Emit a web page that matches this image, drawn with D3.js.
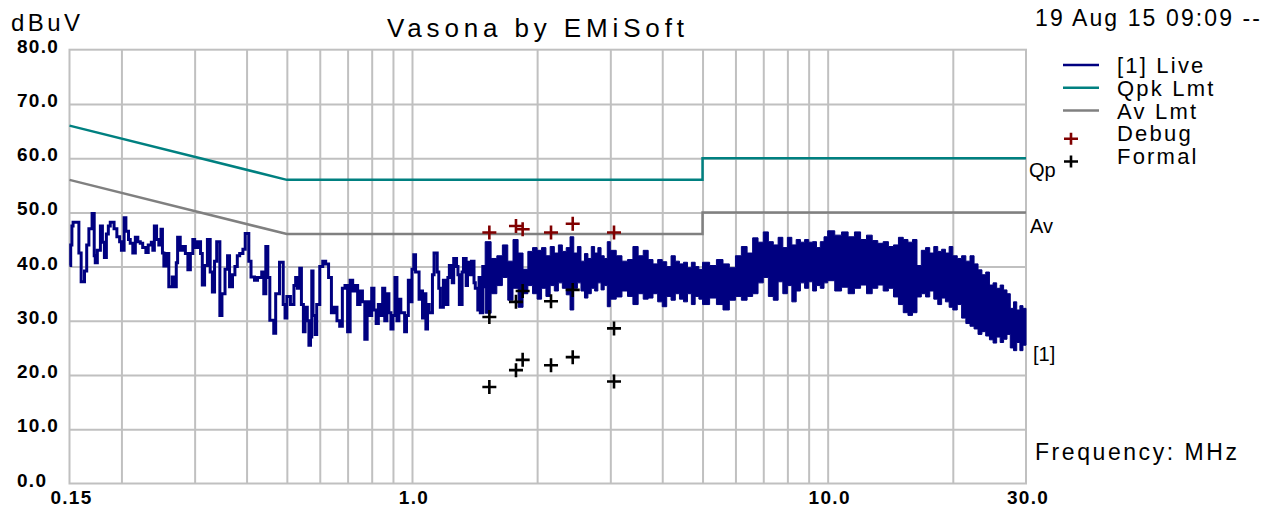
<!DOCTYPE html>
<html>
<head>
<meta charset="utf-8">
<script src="https://cdn.jsdelivr.net/npm/d3@7"></script>
<style>
  body { margin: 0; background: #fff; }
  svg { display: block; }
  text { font-family: "Liberation Sans", Arial, sans-serif; fill: #000; }
</style>
</head>
<body>
<svg width="1270" height="510"></svg>
<script>
// ---- data ----
var yTicks = [0, 10, 20, 30, 40, 50, 60, 70, 80];
var yTickLabels = ["0.0", "10.0", "20.0", "30.0", "40.0", "50.0", "60.0", "70.0", "80.0"];
var xGrid = [0.2, 0.3, 0.4, 0.5, 0.6, 0.7, 0.8, 0.9, 1, 2, 3, 4, 5, 6, 7, 8, 9, 10, 20];
var xTicks = [0.15, 1, 10, 30];
var xTickLabels = ["0.15", "1.0", "10.0", "30.0"];

// limits (MHz, dBuV)
var qpkFreq = [0.15, 0.5, 5, 5, 30];
var qpkLevel = [66, 56, 56, 60, 60];
var avFreq = [0.15, 0.5, 5, 5, 30];
var avLevel = [56, 46, 46, 50, 50];

// live trace, low band (single line)
var liveFreq = [
  0.150,0.151,0.152,0.153,0.155,0.158,0.160,0.163,0.165,0.167,
  0.170,0.172,0.173,0.175,0.178,0.180,0.182,0.184,0.186,0.188,
  0.192,0.195,0.198,0.200,0.203,0.205,0.208,0.210,0.213,0.216,
  0.219,0.222,0.225,0.229,0.232,0.236,0.238,0.240,0.243,0.246,
  0.249,0.251,0.253,0.256,0.260,0.265,0.268,0.271,0.273,0.277,
  0.281,0.285,0.289,0.293,0.297,0.300,0.305,0.310,0.313,0.317,
  0.322,0.327,0.331,0.335,0.339,0.345,0.349,0.355,0.360,0.364,
  0.370,0.375,0.380,0.385,0.392,0.397,0.405,0.410,0.418,0.425,
  0.435,0.440,0.445,0.450,0.455,0.465,0.470,0.480,0.490,0.495,
  0.500,0.510,0.520,0.525,0.530,0.537,0.542,0.548,0.553,0.560,
  0.565,0.570,0.574,0.578,0.585,0.590,0.600,0.610,0.620,0.630,
  0.640,0.650,0.660,0.670,0.680,0.690,0.700,0.710,0.720,0.730,
  0.740,0.750,0.760,0.770,0.780,0.790,0.800,0.810,0.820,0.830,
  0.840,0.850,0.860,0.870,0.880,0.890,0.900,0.910,0.920,0.930,
  0.940,0.960,0.970,0.980,0.990,1.00,1.01,1.02,1.04,1.05,
  1.06,1.07,1.08,1.09,1.10,1.12,1.13,1.15,1.16,1.17,
  1.19,1.20,1.22,1.23,1.25,1.26,1.28,1.29,1.30,1.32,
  1.33,1.35,1.36,1.38,1.39,1.41,1.42,1.44,1.45,1.46,
  1.48,1.50
];
var liveLevel = [
  40.2,44.0,47.5,48.2,48.2,42.5,37.2,39.2,44.0,47.0,
  49.8,42.0,40.7,43.0,47.5,44.5,41.7,46.0,47.5,48.2,
  47.0,45.5,44.6,43.0,49.0,46.5,45.0,44.3,42.5,45.4,
  44.6,44.3,43.5,42.6,44.0,44.5,43.0,47.5,45.0,44.0,
  46.9,42.5,40.1,42.4,36.3,38.1,36.3,40.7,45.4,43.0,
  43.7,42.4,39.4,42.4,45.0,43.5,44.6,42.4,36.6,40.2,
  45.0,39.0,35.3,41.0,44.6,31.0,35.0,39.5,42.0,36.3,
  38.5,40.0,42.0,42.4,43.2,46.1,41.0,38.1,37.5,38.0,
  39.0,35.0,43.7,38.0,30.1,27.7,35.0,40.8,33.0,30.5,
  34.5,33.0,36.5,38.0,36.0,39.7,33.0,28.0,32.5,30.0,
  25.5,27.0,39.2,31.0,27.5,33.0,40.0,41.0,40.5,38.0,
  31.5,32.5,30.0,29.0,36.0,36.5,28.0,37.5,35.5,36.5,
  33.0,35.5,33.5,26.6,33.5,31.0,36.0,32.0,29.5,33.0,
  31.0,36.0,30.0,35.0,31.5,28.5,31.0,38.0,30.0,34.0,
  31.5,28.0,31.0,37.5,33.5,39.5,42.2,39.0,34.0,35.5,
  30.5,35.0,28.5,33.0,31.5,38.5,42.5,39.0,36.0,32.5,
  37.5,33.0,38.0,40.2,37.0,41.5,40.0,38.5,33.0,39.0,
  41.5,36.5,40.8,38.5,41.0,37.0,36.0,32.0,38.0,31.5,
  40.0,36.0
];

// live trace, dense band above 1.5 MHz (column top / bottom)
var bandFreq = [
  1.50,1.55,1.60,1.65,1.70,1.75,1.80,1.85,1.90,1.95,
  2.00,2.05,2.10,2.15,2.20,2.25,2.30,2.35,2.40,2.45,
  2.50,2.55,2.60,2.65,2.70,2.75,2.80,2.85,2.90,2.95,
  3.0,3.1,3.2,3.3,3.4,3.5,3.6,3.7,3.8,3.9,
  4.0,4.1,4.2,4.3,4.4,4.5,4.6,4.7,4.8,4.9,
  5.0,5.2,5.4,5.6,5.8,6.0,6.2,6.4,6.6,6.8,
  7.0,7.2,7.4,7.6,7.8,8.0,8.2,8.4,8.6,8.8,
  9.0,9.2,9.4,9.6,9.8,10.0,10.4,10.8,11.2,11.6,
  12.0,12.4,12.8,13.2,13.6,14.0,14.4,14.8,15.2,15.6,
  16.0,16.4,16.8,17.2,17.6,18.0,18.4,18.8,19.2,19.6,
  20.0,20.5,21.0,21.5,22.0,22.5,23.0,23.5,24.0,24.5,
  25.0,25.5,26.0,26.5,27.0,27.5,28.0,28.5,29.0,29.5,
  30.0
];
var bandHi = [
  44.6,41.5,42.0,44.0,41.0,45.0,42.5,39.5,42.8,43.5,
  43.0,43.5,42.0,43.7,42.5,44.0,42.8,43.5,45.5,42.5,
  43.7,41.0,42.4,41.5,43.7,42.5,43.5,42.0,41.5,44.6,
  43.0,42.0,41.0,41.3,43.7,42.0,43.0,41.3,40.5,41.3,
  40.9,40.0,42.0,41.0,40.5,40.8,39.8,40.8,40.0,39.5,
  40.8,40.2,41.3,40.5,39.8,42.0,43.7,42.5,45.3,44.5,
  46.4,44.6,44.0,45.4,43.5,45.4,44.0,45.0,44.5,45.0,
  44.5,44.6,43.5,44.6,45.5,46.6,45.8,46.4,45.5,46.4,
  45.0,45.8,44.8,44.3,44.6,43.7,44.0,45.4,45.0,44.5,
  45.0,40.2,43.0,43.5,42.5,43.7,42.8,43.2,42.5,43.7,
  42.0,41.5,42.0,41.0,42.0,40.5,39.4,38.5,39.0,36.6,
  37.0,36.0,36.6,35.7,35.0,32.3,33.5,32.0,32.8,32.3,
  32.3
];
var bandLo = [
  31.4,35.0,36.5,38.0,33.8,36.0,32.5,35.0,36.5,35.0,
  34.0,36.0,34.5,36.5,35.5,37.0,36.0,34.8,32.0,36.0,
  37.0,35.5,34.2,35.0,36.0,35.5,37.0,35.7,36.5,32.6,
  34.0,34.4,35.5,34.5,33.0,35.0,34.0,34.2,35.0,33.5,
  32.6,34.5,33.8,35.0,34.0,33.5,35.0,33.0,34.5,34.0,
  33.0,34.2,33.0,32.0,33.8,34.5,33.8,34.5,35.0,37.0,
  38.0,34.5,33.8,37.2,35.0,36.5,33.5,35.5,37.0,36.0,
  37.2,35.5,36.5,36.0,37.0,37.4,35.5,36.2,35.0,36.0,
  36.6,35.0,36.0,36.6,35.5,36.0,34.4,33.0,31.5,31.0,
  31.5,34.4,35.0,34.4,35.5,34.0,33.0,34.2,33.5,32.5,
  32.0,33.0,30.5,29.5,29.0,28.5,27.5,28.0,27.2,26.5,
  25.9,27.0,26.0,26.6,27.5,25.0,24.5,26.0,24.5,25.5,
  25.5
];

// measured points
var debugFreq = [1.535, 1.779, 1.846, 2.16, 2.436, 3.062];
var debugLevel = [46.3, 47.5, 46.9, 46.3, 47.9, 46.3];
var formalFreq = [1.535, 1.535, 1.779, 1.779, 1.846, 1.846, 2.16, 2.16, 2.436, 2.436, 3.062, 3.062];
var formalLevel = [30.7, 17.8, 33.5, 20.9, 35.5, 22.8, 33.6, 21.8, 35.7, 23.3, 28.6, 18.8];

var legendNames = ["[1] Live", "Qpk Lmt", "Av Lmt", "Debug", "Formal"];
var titleText = "Vasona by EMiSoft";
var dateText = "19 Aug 15 09:09 --";

// ---- drawing ----
var svg = d3.select("svg");
var navy = "#000080", teal = "#008080", grey = "#808080", darkRed = "#800000", grid = "#c0c0c0";

var x = d3.scaleLog().domain([0.15, 30]).range([69.5, 1026]);
var y = d3.scaleLinear().domain([0, 80]).range([483.5, 49.7]);
var plotW = x(30) - x(0.15), plotH = y(0) - y(80);

// grid
var gx = svg.append("g")
    .attr("transform", "translate(0," + y(0) + ")")
    .call(d3.axisBottom(x).tickValues(xGrid).tickSize(-plotH).tickFormat(""));
var gy = svg.append("g")
    .attr("transform", "translate(" + x(0.15) + ",0)")
    .call(d3.axisLeft(y).tickValues(yTicks.slice(1, -1)).tickSize(-plotW).tickFormat(""));
[gx, gy].forEach(function(g) {
    g.select(".domain").remove();
    g.selectAll("line").attr("stroke", grid).attr("stroke-width", 2);
});
svg.append("rect")
    .attr("x", x(0.15)).attr("y", y(80))
    .attr("width", plotW).attr("height", plotH)
    .attr("fill", "none").attr("stroke", grid).attr("stroke-width", 2);

// limit lines
var limLine = d3.line().x(function(d) { return x(d[0]); }).y(function(d) { return y(d[1]); });
svg.append("path")
    .attr("d", limLine(d3.zip(avFreq, avLevel)))
    .attr("fill", "none").attr("stroke", grey).attr("stroke-width", 2.5);
svg.append("path")
    .attr("d", limLine(d3.zip(qpkFreq, qpkLevel)))
    .attr("fill", "none").attr("stroke", teal).attr("stroke-width", 2.5);

// live trace
var liveLine = d3.line().curve(d3.curveStepAfter)
    .x(function(d) { return x(d[0]); }).y(function(d) { return y(d[1]); });
svg.append("path")
    .attr("d", liveLine(d3.zip(liveFreq, liveLevel)))
    .attr("fill", "none").attr("stroke", navy).attr("stroke-width", 3);

var bandArea = d3.area().curve(d3.curveStepAfter)
    .x(function(d) { return x(d[0]); })
    .y0(function(d) { return y(d[2]); })
    .y1(function(d) { return y(d[1]); });
svg.append("path")
    .attr("d", bandArea(d3.zip(bandFreq, bandHi, bandLo)))
    .attr("fill", navy).attr("stroke", navy).attr("stroke-width", 1);

// markers
var cross = "M-7,0H7M0,-7V7";
svg.append("g").selectAll("path")
    .data(d3.zip(formalFreq, formalLevel))
    .enter().append("path")
    .attr("d", cross)
    .attr("transform", function(d) { return "translate(" + x(d[0]) + "," + y(d[1]) + ")"; })
    .attr("stroke", "#000").attr("stroke-width", 2.6);
svg.append("g").selectAll("path")
    .data(d3.zip(debugFreq, debugLevel))
    .enter().append("path")
    .attr("d", cross)
    .attr("transform", function(d) { return "translate(" + x(d[0]) + "," + y(d[1]) + ")"; })
    .attr("stroke", darkRed).attr("stroke-width", 2.6);

// axis labels
svg.append("g").selectAll("text")
    .data(yTicks)
    .enter().append("text")
    .attr("x", 17)
    .attr("y", function(d) { return y(d) + 3; })
    .style("font-size", "19px").style("font-weight", "bold").style("letter-spacing", "1.3px")
    .text(function(d, i) { return yTickLabels[i]; });
svg.append("g").selectAll("text")
    .data(xTicks)
    .enter().append("text")
    .attr("x", function(d) { return x(d) + 2; })
    .attr("y", 504)
    .attr("text-anchor", "middle")
    .style("font-size", "19px").style("font-weight", "bold").style("letter-spacing", "1.3px")
    .text(function(d, i) { return xTickLabels[i]; });

svg.append("text").attr("x", 11).attr("y", 30.5)
    .attr("textLength", 69).attr("lengthAdjust", "spacing")
    .style("font-size", "24px").text("dBuV");
svg.append("text").attr("x", 387).attr("y", 37)
    .attr("textLength", 297).attr("lengthAdjust", "spacing")
    .style("font-size", "26px").text(titleText);
svg.append("text").attr("x", 1035).attr("y", 26)
    .attr("textLength", 225).attr("lengthAdjust", "spacing")
    .style("font-size", "23px").text(dateText);
svg.append("text").attr("x", 1035).attr("y", 460)
    .attr("textLength", 202).attr("lengthAdjust", "spacing")
    .style("font-size", "23px").text("Frequency: MHz");

// end-of-line tags
svg.append("text").attr("x", 1029).attr("y", y(qpkLevel[qpkLevel.length - 1]) + 19)
    .style("font-size", "20px").text("Qp");
svg.append("text").attr("x", 1030).attr("y", y(avLevel[avLevel.length - 1]) + 21)
    .style("font-size", "20px").text("Av");
svg.append("text").attr("x", 1033).attr("y", y(bandLo[bandLo.length - 1]) + 16)
    .style("font-size", "20px").text("[1]");

// legend
var leg = svg.append("g");
var legStyle = [
    {kind: "line", color: navy}, {kind: "line", color: teal}, {kind: "line", color: grey},
    {kind: "cross", color: darkRed}, {kind: "cross", color: "#000"}
];
legendNames.forEach(function(name, i) {
    var ty = 73 + i * 22.75;
    var s = legStyle[i];
    if (s.kind === "line") {
        leg.append("line").attr("x1", 1063).attr("x2", 1099)
            .attr("y1", ty - 8).attr("y2", ty - 8)
            .attr("stroke", s.color).attr("stroke-width", 2.5);
    } else {
        leg.append("path").attr("d", "M-7,0H7M0,-6V6")
            .attr("transform", "translate(1071," + (ty - 2.5) + ")")
            .attr("stroke", s.color).attr("stroke-width", 2.6);
    }
    leg.append("text").attr("x", 1117).attr("y", ty)
        .style("font-size", "22px").style("letter-spacing", "2.2px")
        .text(name);
});
</script>
</body>
</html>
